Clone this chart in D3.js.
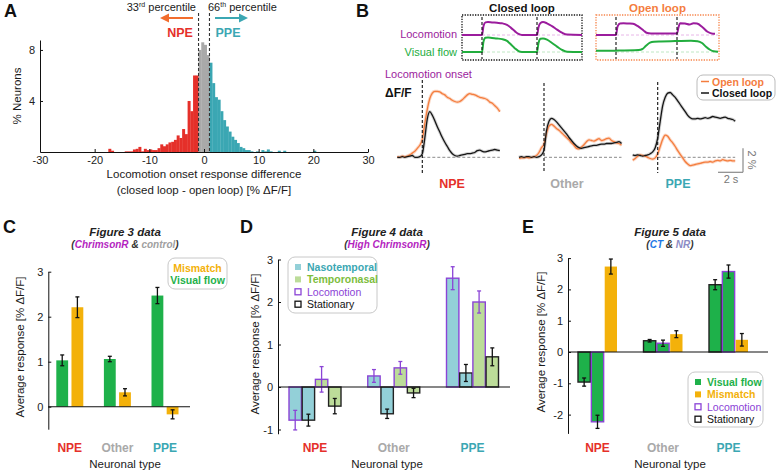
<!DOCTYPE html>
<html><head><meta charset="utf-8">
<script src="https://cdn.jsdelivr.net/npm/d3@7"></script>
<style>
body{margin:0;background:#fff}
svg{display:block;background:#fff}
text{font-family:"Liberation Sans",Arial,Helvetica,sans-serif}
</style>
</head><body>
<svg id="c" width="777" height="471"></svg>
<script>
// ================= DATA =================
// Panel A: histogram (bin left edges, % neurons), bin width 0.5
const histBinWidth = 0.5;
const histBinLeft = [-17.5,-17,-14.5,-14,-13.5,-13,-12.5,-12,-11.5,-11,-10.5,-10,-9.5,-9,-8.5,-8,-7.5,-7,-6.5,-6,-5.5,-5,-4.5,-4,-3.5,-3,-2.5,-2,-1.5,
  -1,-0.5,0,0.5,
  1,1.5,2,2.5,3,3.5,4,4.5,5,5.5,6,6.5,7,7.5,8,8.5,9.5,10.5,11,11.5,12,13.5,14.5,20];
const histPercent = [0.25,0.1,0.05,0.05,0.05,0.2,0.25,0.4,0.05,0.25,0.15,0.2,0.15,0.15,0.3,0.6,0.45,0.6,0.75,0.8,0.95,1.3,1.1,1.8,1.4,4.0,3.2,6.0,6.0,
  8.0,8.6,8.4,7.6,
  7.0,5.4,4.3,4.1,3.2,2.5,2.0,1.6,1.2,0.95,0.7,0.4,0.3,0.15,0.15,0.05,0.05,0.15,0.05,0.2,0.05,0.1,0.1,0.1];
const percentile33 = -1, percentile66 = 1;
const histXTicks = [-30,-20,-10,0,10,20,30];
const histYTicks = [4,8];

// Panel B schematic (arbitrary time units, normalized levels)
const closedTime = [0,4,4.3,4.7,5.2,6,7,8,9,9.8,10.6,11.3,12,15,15.3,15.7,16.2,17,18,19,20,21,24];
const closedLoco = [0,0,0.7,0.97,1,0.97,0.94,0.9,0.78,0.55,0.28,0.08,0,0,0.6,0.92,1,0.9,0.68,0.42,0.18,0.03,0];
const closedFlow = [0,0,0.7,0.95,0.96,0.93,0.9,0.86,0.74,0.5,0.24,0.06,0,0,0.6,0.88,0.9,0.82,0.6,0.36,0.14,0.02,0];
const closedOnsets = [4,15];
const openLocoTime = [0,4,4.3,4.8,5.5,6.5,7.4,8.3,9.5,10.1,11,16.2,16.5,16.8,17.8,18.7,19.5,20.2,21.3,22.3,23.4,23.8];
const openLoco = [0,0,0.65,0.88,0.9,0.88,0.86,0.7,0.35,0.17,0.12,0.12,0.6,0.9,0.88,0.8,0.9,0.88,0.6,0.25,0.1,0.1];
const openFlowTime = [0,4,8.5,9.3,10,10.8,11.6,13,15,17,19,20.3,21.2,22,22.8,23.5,24.4];
const openFlow = [0.08,0.09,0.13,0.2,0.42,0.62,0.68,0.7,0.72,0.74,0.75,0.72,0.6,0.35,0.15,0.05,0.02];
const openOnsets = [4,16.2];

// Panel B responses to locomotion onset (time s, % dF/F)
const traceTime = [-2,-1.8,-1.6,-1.4,-1.2,-1,-0.8,-0.6,-0.4,-0.2,0,0.2,0.4,0.6,0.8,1,1.2,1.4,1.6,1.8,2,2.2,2.4,2.6,2.8,3,3.2,3.4,3.6,3.8,4,4.2,4.4,4.6,4.8,5,5.2,5.4,5.6,5.8,6,6.2];
const npeOpen = [0.05,0,0.1,0.05,0.1,0.2,0.35,0.5,0.75,1.0,1.5,2.8,4.0,4.9,5.35,5.5,5.5,5.45,5.3,5.2,5.0,4.9,4.75,4.65,4.6,4.65,4.8,5.0,5.2,5.3,5.25,5.2,5.1,5.0,4.95,4.9,4.8,4.6,4.5,4.3,4.1,3.8];
const npeClosed = [0,0,0.05,0,0.05,0.1,0.15,0,0,0.05,0.3,1.6,3.2,3.8,3.5,3.05,2.55,2.1,1.65,1.25,0.9,0.55,0.3,0.15,0.1,0.15,0.2,0.25,0.3,0.3,0.35,0.4,0.55,0.6,0.5,0.45,0.5,0.55,0.6,0.65,0.6,0.55];
const otherOpen = [-0.1,-0.05,-0.05,0,-0.05,0,0.05,0.15,0.4,0.8,1.1,2.0,2.6,2.75,2.6,2.4,2.25,2.05,1.85,1.65,1.45,1.2,1.0,0.75,0.7,0.85,1.05,1.3,1.45,1.4,1.35,1.45,1.55,1.4,1.45,1.55,1.6,1.4,1.3,1.2,1.15,1.0];
const otherClosed = [0,0.05,0,0.05,0.05,0,0.05,0,0.05,0.2,0.6,2.2,3.0,3.25,3.15,2.95,2.7,2.45,2.2,1.95,1.65,1.4,1.15,0.95,0.8,0.75,0.8,0.85,0.9,0.95,1.0,1.0,1.05,1.1,1.1,1.15,1.15,1.15,1.2,1.25,1.3,1.15];
const ppeOpen = [-0.25,-0.1,0.1,0.2,0.15,0.1,0,-0.1,-0.15,-0.05,0.3,0.9,1.5,1.85,1.75,1.45,1.2,0.9,0.55,0.25,-0.05,-0.35,-0.55,-0.7,-0.65,-0.6,-0.55,-0.5,-0.45,-0.4,-0.4,-0.35,-0.4,-0.3,-0.25,-0.3,-0.2,-0.25,-0.3,-0.25,-0.3,-0.3];
const ppeClosed = [0.2,0.15,0.2,0.15,0.1,0.15,0.2,0.3,0.45,0.8,1.6,3.0,4.3,5.0,5.35,5.4,5.2,5.0,4.7,4.4,4.1,3.8,3.5,3.3,3.2,3.2,3.25,3.2,3.25,3.3,3.25,3.3,3.4,3.35,3.3,3.25,3.3,3.35,3.25,3.2,3.15,3.0];

// Bar panels
const neuronTypes = ["NPE","Other","PPE"];
// C: Figure 3 data
const cVisualFlow = [1.03,1.06,2.47], cVisualFlowErr = [0.12,0.06,0.18];
const cMismatch = [2.21,0.32,-0.17], cMismatchErr = [0.23,0.08,0.1];
const cTicks = [0,1,2,3];
// D: Figure 4 data
const dNasoLoco = [-0.78,0.26,2.56], dNasoLocoErr = [0.23,0.15,0.27];
const dNasoStat = [-0.78,-0.63,0.33], dNasoStatErr = [0.14,0.11,0.2];
const dTempLoco = [0.18,0.45,2.0], dTempLocoErr = [0.3,0.15,0.26];
const dTempStat = [-0.45,-0.14,0.71], dTempStatErr = [0.18,0.11,0.21];
const dTicks = [-1,0,1,2,3];
// E: Figure 5 data
const eFlowStat = [-0.96,0.36,2.15], eFlowStatErr = [0.13,0.04,0.16];
const eFlowLoco = [-2.23,0.28,2.57], eFlowLocoErr = [0.21,0.1,0.21];
const eMismatch = [2.73,0.57,0.39], eMismatchErr = [0.24,0.11,0.2];
const eTicks = [-2,-1,0,1,2,3];

// ================= STYLE =================
const COL = {
  red:"#e5302a", teal:"#3ba7b3", gray:"#a9a9a9", arrowOrange:"#f26d2d",
  open:"#f47d3e", openBand:"#f9bd9c", closed:"#151515", closedBand:"#b5b5b5",
  purpleB:"#9b1c9d", greenB:"#22ad3e", orangeBox:"#f6844a",
  green:"#1eb14a", mismatch:"#f3b10a", loco:"#8b44d6", stat:"#222",
  nasoFill:"#93d0d8", nasoText:"#3ba7b3", tempFill:"#bcdc99", tempText:"#7dbd3c",
  magenta:"#b41fbf", ct:"#1d78e6", nr:"#8d8cc4", text:"#1a1a1a"
};
const typeColor = {NPE:COL.red, Other:COL.gray, PPE:COL.teal};

const svg = d3.select("#c");
svg.append("rect").attr("width",777).attr("height",471).attr("fill","#fff");

function T(g,x,y,s,o={}){
  const t=g.append("text").attr("x",x).attr("y",y).text(s)
    .attr("font-size",o.size||11).attr("fill",o.fill||COL.text)
    .attr("text-anchor",o.anchor||"start");
  if(o.bold) t.attr("font-weight","bold");
  if(o.italic) t.attr("font-style","italic");
  if(o.db) t.attr("dominant-baseline",o.db);
  if(o.rot!=null) t.attr("transform",`rotate(${o.rot},${x},${y})`);
  return t;
}
function styleAxis(sel){
  sel.selectAll("path.domain").attr("stroke","#111").attr("stroke-width",1);
  sel.selectAll(".tick line").attr("stroke","#111");
  sel.selectAll(".tick text").attr("font-size",11).attr("fill","#222")
    .attr("font-family",'"Liberation Sans",Arial,sans-serif');
}

// ================= PANEL A =================
const gA = svg.append("g");
T(gA,4,17,"A",{size:18,bold:true,fill:"#111"});
const ax = d3.scaleLinear().domain([-30,30]).range([40,368]);
const ay = d3.scaleLinear().domain([0,8.78]).range([152,40]);
const hist = histBinLeft.map((l,i)=>({l,v:histPercent[i]}));
gA.selectAll("rect.bin").data(hist).join("rect").attr("class","bin")
  .attr("x",d=>ax(d.l)).attr("width",d=>ax(d.l+histBinWidth)-ax(d.l)+0.25)
  .attr("y",d=>ay(d.v)).attr("height",d=>ay(0)-ay(d.v))
  .attr("fill",d=>{const c=d.l+histBinWidth/2; return c<percentile33?COL.red:(c>percentile66?COL.teal:COL.gray);});
[percentile33,percentile66].forEach(p=>{
  gA.append("line").attr("x1",ax(p)).attr("x2",ax(p)).attr("y1",13).attr("y2",152)
    .attr("stroke","#333").attr("stroke-width",1.1).attr("stroke-dasharray","3,2");
});
const axA = gA.append("g").attr("transform","translate(0,152)")
  .call(d3.axisBottom(ax).tickValues(histXTicks).tickSize(-3).tickSizeOuter(0).tickPadding(4).tickFormat(d=>String(d)));
styleAxis(axA);
const ayA = gA.append("g").attr("transform","translate(40,0)")
  .call(d3.axisLeft(ay).tickValues(histYTicks).tickSize(-3).tickSizeOuter(0).tickPadding(5).tickFormat(d=>String(d)));
styleAxis(ayA);
T(gA,21,96,"% Neurons",{size:11.5,anchor:"middle",rot:-90});
T(gA,204,178,"Locomotion onset response difference",{size:11.5,anchor:"middle"});
T(gA,204,194,"(closed loop - open loop) [% \u0394F/F]",{size:11.5,anchor:"middle"});
// percentile labels
const t33=T(gA,196,11,"33",{size:11,anchor:"end"});
t33.append("tspan").text("rd").attr("font-size",7).attr("dy",-4);
t33.append("tspan").text(" percentile").attr("dy",4);
const t66=T(gA,208,11,"66",{size:11});
t66.append("tspan").text("th").attr("font-size",7).attr("dy",-4);
t66.append("tspan").text(" percentile").attr("dy",4);
// arrows
gA.append("line").attr("x1",193).attr("x2",167).attr("y1",18).attr("y2",18).attr("stroke",COL.arrowOrange).attr("stroke-width",2);
gA.append("path").attr("d","M160,18 L169,13.5 L169,22.5 Z").attr("fill",COL.arrowOrange);
gA.append("line").attr("x1",215).attr("x2",241).attr("y1",18).attr("y2",18).attr("stroke",COL.teal).attr("stroke-width",2);
gA.append("path").attr("d","M248,18 L239,13.5 L239,22.5 Z").attr("fill",COL.teal);
T(gA,180,37,"NPE",{size:12.5,bold:true,fill:COL.red,anchor:"middle"});
T(gA,228,37,"PPE",{size:12.5,bold:true,fill:COL.teal,anchor:"middle"});

// ================= PANEL B =================
const gB = svg.append("g");
T(gB,356,17,"B",{size:18,bold:true,fill:"#111"});
function schematic(box, color, title, times, loco, ftimes, flow, onsets, xmax){
  const sx = d3.scaleLinear().domain([0,xmax]).range([box[0],box[1]]);
  const ly = d3.scaleLinear().domain([0,1]).range([35,22]);
  const fy = d3.scaleLinear().domain([0,1]).range([52,37]);
  gB.append("rect").attr("x",box[0]).attr("y",15).attr("width",box[1]-box[0]).attr("height",45)
    .attr("fill","none").attr("stroke",color).attr("stroke-width",1.3).attr("stroke-dasharray","1.3,1.3");
  T(gB,(box[0]+box[1])/2,12,title,{size:11.5,bold:true,fill:color==="#111"?"#111":COL.open,anchor:"middle"});
  gB.append("line").attr("x1",sx(onsets[0])).attr("x2",box[1]-1).attr("y1",ly(0)).attr("y2",ly(0))
    .attr("stroke","#e8b6e8").attr("stroke-width",1).attr("stroke-dasharray","3,2");
  gB.append("line").attr("x1",sx(onsets[0])).attr("x2",box[1]-1).attr("y1",fy(0)).attr("y2",fy(0))
    .attr("stroke","#bfe8c4").attr("stroke-width",1).attr("stroke-dasharray","3,2");
  gB.append("path").attr("d",d3.line().x((d,i)=>sx(times[i])).y(d=>ly(d)).curve(d3.curveMonotoneX)(loco))
    .attr("fill","none").attr("stroke",COL.purpleB).attr("stroke-width",2);
  gB.append("path").attr("d",d3.line().x((d,i)=>sx(ftimes[i])).y(d=>fy(d)).curve(d3.curveMonotoneX)(flow))
    .attr("fill","none").attr("stroke",COL.greenB).attr("stroke-width",2);
  onsets.forEach(o=>gB.append("line").attr("x1",sx(o)).attr("x2",sx(o)).attr("y1",17).attr("y2",59)
    .attr("stroke","#111").attr("stroke-width",1.1).attr("stroke-dasharray","3,2"));
}
schematic([462,582],"#111","Closed loop",closedTime,closedLoco,closedTime,closedFlow,closedOnsets,24);
schematic([596,719],COL.orangeBox,"Open loop",openLocoTime,openLoco,openFlowTime,openFlow,openOnsets,24.6);
T(gB,457,38,"Locomotion",{size:11,fill:COL.purpleB,anchor:"end"});
T(gB,457,56,"Visual flow",{size:11,fill:COL.greenB,anchor:"end"});
T(gB,385,78,"Locomotion onset",{size:11,fill:COL.purpleB});
T(gB,385,97,"\u0394F/F",{size:12,bold:true,fill:"#111"});

const traceY = d3.scaleLinear().domain([0,1]).range([157.3,145.3]);
const traceSets = [
  {x0:422.3, open:npeOpen, closed:npeClosed, name:"NPE"},
  {x0:544.0, open:otherOpen, closed:otherClosed, name:"Other"},
  {x0:657.7, open:ppeOpen, closed:ppeClosed, name:"PPE"}
];
traceSets.forEach((s,k)=>{
  const tx = d3.scaleLinear().domain([0,1]).range([s.x0, s.x0+12.5]);
  gB.append("line").attr("x1",tx(0)).attr("x2",tx(6.2)).attr("y1",traceY(0)).attr("y2",traceY(0))
    .attr("stroke","#8a8a8a").attr("stroke-width",1).attr("stroke-dasharray","3,2");
  const line = d3.line().x((d,i)=>tx(traceTime[i])).y(d=>traceY(d)).curve(d3.curveMonotoneX);
  [[s.open,COL.open,COL.openBand],[s.closed,COL.closed,COL.closedBand]].forEach(([vals,c,b])=>{
    gB.append("path").attr("d",line(vals)).attr("fill","none").attr("stroke",b).attr("stroke-width",3.2).attr("opacity",0.6);
  });
  [[s.open,COL.open],[s.closed,COL.closed]].forEach(([vals,c])=>{
    gB.append("path").attr("d",line(vals)).attr("fill","none").attr("stroke",c).attr("stroke-width",1.3);
  });
  gB.append("line").attr("x1",tx(0)).attr("x2",tx(0)).attr("y1",[80,83,82][k]).attr("y2",173)
    .attr("stroke","#111").attr("stroke-width",1.1).attr("stroke-dasharray","3,2");
  T(gB,[452,567,678][k],188,s.name,{size:12.5,bold:true,fill:typeColor[s.name],anchor:"middle"});
});
// scale bars
gB.append("line").attr("x1",743).attr("x2",743).attr("y1",traceY(-1.25)).attr("y2",traceY(-1.25)-24).attr("stroke","#8a8a8a").attr("stroke-width",1.2);
gB.append("line").attr("x1",718).attr("x2",743).attr("y1",traceY(-1.25)).attr("y2",traceY(-1.25)).attr("stroke","#8a8a8a").attr("stroke-width",1.2);
T(gB,748,160,"2 %",{size:11,fill:"#777",anchor:"middle",rot:90});
T(gB,731,183,"2 s",{size:11,fill:"#777",anchor:"middle"});
// legend
gB.append("rect").attr("x",697).attr("y",75).attr("width",78).attr("height",25).attr("rx",6)
  .attr("fill","#fff").attr("stroke","#bbb").attr("stroke-width",1);
gB.append("line").attr("x1",701).attr("x2",709).attr("y1",81.5).attr("y2",81.5).attr("stroke",COL.open).attr("stroke-width",1.5);
gB.append("line").attr("x1",701).attr("x2",709).attr("y1",93).attr("y2",93).attr("stroke",COL.closed).attr("stroke-width",1.5);
T(gB,712,85.5,"Open loop",{size:10.5,bold:true,fill:COL.open});
T(gB,712,97,"Closed loop",{size:10.5,bold:true,fill:"#111"});

// ================= BAR PANELS =================
function barPanel(o){
  const g = svg.append("g");
  const y = d3.scaleLinear().domain(o.yDomain).range(o.yRange);
  const gx = d3.scalePoint().domain(neuronTypes).range(o.centers);
  const ix = d3.scaleBand().domain(o.series.map(s=>s.key)).range([-o.half,o.half]).paddingInner(o.pad);
  o.series.forEach(s=>{
    neuronTypes.forEach((n,i)=>{
      const v=s.values[i], e=s.errors[i];
      const x=gx(n)+ix(s.key), w=ix.bandwidth();
      g.append("rect").attr("x",x).attr("width",w)
        .attr("y",y(Math.max(0,v))).attr("height",Math.abs(y(v)-y(0)))
        .attr("fill",s.fill).attr("stroke",s.stroke||"none").attr("stroke-width",s.stroke?1.4:0);
      const cx=x+w/2, ec=s.errColor||"#111";
      g.append("line").attr("x1",cx).attr("x2",cx).attr("y1",y(v-e)).attr("y2",y(v+e)).attr("stroke",ec).attr("stroke-width",1.3);
      [v-e,v+e].forEach(q=>g.append("line").attr("x1",cx-2).attr("x2",cx+2).attr("y1",y(q)).attr("y2",y(q)).attr("stroke",ec).attr("stroke-width",1.3));
    });
  });
  g.append("line").attr("x1",o.axisX).attr("x2",o.zeroEnd).attr("y1",y(0)).attr("y2",y(0)).attr("stroke","#111").attr("stroke-width",1.1);
  const a = g.append("g").attr("transform",`translate(${o.axisX},0)`)
    .call(d3.axisLeft(y).tickValues(o.ticks).tickSize(-3).tickSizeOuter(0).tickPadding(5).tickFormat(d=>String(d)));
  styleAxis(a);
  neuronTypes.forEach(n=>T(g,gx(n)+(o.labelShift||0),o.catY,n,{size:12,bold:true,fill:typeColor[n],anchor:"middle"}));
  T(g,o.titleX,o.catY+16,"Neuronal type",{size:11.5,anchor:"middle"});
  T(g,o.ylabX,o.ylabY,"Average response [% \u0394F/F]",{size:11.5,anchor:"middle",rot:-90});
  T(g,o.letterX,233,o.letter,{size:18,bold:true,fill:"#111"});
  T(g,o.titleX,236,o.title,{size:11.5,bold:true,italic:true,fill:"#222",anchor:"middle"});
  const sub=T(g,o.titleX,248,"",{size:10,bold:true,italic:true,fill:"#333",anchor:"middle"});
  o.sub.forEach(([s,c])=>sub.append("tspan").text(s).attr("fill",c));
  return g;
}
function legend(g,x,y,w,h,items){
  g.append("rect").attr("x",x).attr("y",y).attr("width",w).attr("height",h).attr("rx",7)
    .attr("fill","#fff").attr("stroke","#c8c8c8").attr("stroke-width",1);
  items.forEach((it,i)=>{
    const cy=y+10+i*12.4;
    if(it.sq){
      g.append("rect").attr("x",x+7).attr("y",cy-3).attr("width",6).attr("height",6)
        .attr("fill",it.sq.fill).attr("stroke",it.sq.stroke||"none").attr("stroke-width",1.3);
    }
    T(g,it.sq?x+19:x+w/2,cy,it.label,{size:10.5,bold:it.bold,fill:it.color,anchor:it.sq?"start":"middle",db:"central"});
  });
}

// C
const gC = barPanel({
  letter:"C", letterX:3, title:"Figure 3 data",
  sub:[["(","#333"],["ChrimsonR",COL.magenta],[" & ","#333"],["control","#a0a0a0"],[")","#333"]],
  titleX:125, yDomain:[-0.5,3], yRange:[429.2,271.7], centers:[69.8,165], half:13.5, pad:0.22,
  axisX:48.3, zeroEnd:190, ticks:cTicks, catY:452, ylabX:24, ylabY:347,
  series:[
    {key:"vf", values:cVisualFlow, errors:cVisualFlowErr, fill:COL.green},
    {key:"mm", values:cMismatch, errors:cMismatchErr, fill:COL.mismatch}
  ]
});
legend(gC,168,258,59,31,[
  {label:"Mismatch",color:COL.mismatch,bold:true},
  {label:"Visual flow",color:COL.green,bold:true}
]);

// D
const gD = barPanel({
  letter:"D", letterX:240, title:"Figure 4 data",
  sub:[["(","#333"],["High ChrimsonR",COL.magenta],[")","#333"]],
  titleX:387, yDomain:[-1.1,3], yRange:[433.75,259.5], centers:[315,472.5], half:26, pad:0.06,
  axisX:278, zeroEnd:510, ticks:dTicks, catY:452, ylabX:259, ylabY:344,
  series:[
    {key:"nl", values:dNasoLoco, errors:dNasoLocoErr, fill:COL.nasoFill, stroke:COL.loco, errColor:COL.loco},
    {key:"ns", values:dNasoStat, errors:dNasoStatErr, fill:COL.nasoFill, stroke:COL.stat, errColor:"#111"},
    {key:"tl", values:dTempLoco, errors:dTempLocoErr, fill:COL.tempFill, stroke:COL.loco, errColor:COL.loco},
    {key:"ts", values:dTempStat, errors:dTempStatErr, fill:COL.tempFill, stroke:COL.stat, errColor:"#111"}
  ]
});
legend(gD,288,257,89,56,[
  {label:"Nasotemporal",color:COL.nasoText,bold:true,sq:{fill:COL.nasoFill}},
  {label:"Temporonasal",color:COL.tempText,bold:true,sq:{fill:COL.tempFill}},
  {label:"Locomotion",color:COL.loco,sq:{fill:"#fff",stroke:COL.loco}},
  {label:"Stationary",color:"#111",sq:{fill:"#fff",stroke:"#111"}}
]);

// E
const gE = barPanel({
  letter:"E", letterX:522, title:"Figure 5 data",
  sub:[["(","#333"],["CT",COL.ct],[" & ","#333"],["NR",COL.nr],[")","#333"]],
  titleX:670, yDomain:[-2.6,3], yRange:[433.4,258.1], centers:[597.5,728.5], half:19.5, pad:0.08,
  axisX:568, zeroEnd:768, ticks:eTicks, catY:452, ylabX:545, ylabY:342,
  series:[
    {key:"fs", values:eFlowStat, errors:eFlowStatErr, fill:COL.green, stroke:COL.stat},
    {key:"fl", values:eFlowLoco, errors:eFlowLocoErr, fill:COL.green, stroke:COL.loco},
    {key:"mm", values:eMismatch, errors:eMismatchErr, fill:COL.mismatch}
  ]
});
legend(gE,688,372,75,55,[
  {label:"Visual flow",color:COL.green,bold:true,sq:{fill:COL.green}},
  {label:"Mismatch",color:COL.mismatch,bold:true,sq:{fill:COL.mismatch}},
  {label:"Locomotion",color:COL.loco,sq:{fill:"#fff",stroke:COL.loco}},
  {label:"Stationary",color:"#111",sq:{fill:"#fff",stroke:"#111"}}
]);
</script>
</body></html>
